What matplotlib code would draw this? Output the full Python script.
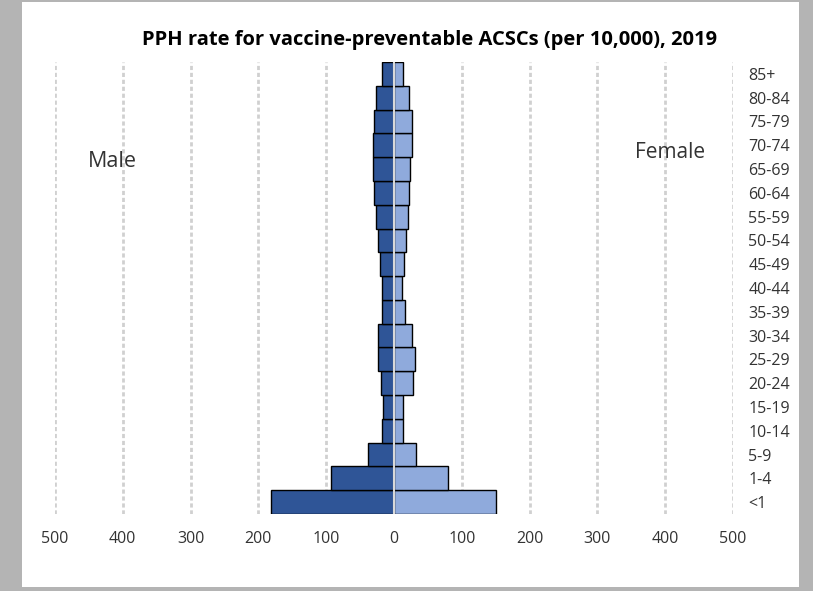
import matplotlib

matplotlib.use("Agg")
import matplotlib.pyplot as plt
from matplotlib.patches import Rectangle

ages = ["<1", "1-4", "5-9", "10-14", "15-19", "20-24", "25-29", "30-34", "35-39",
        "40-44", "45-49", "50-54", "55-59", "60-64", "65-69", "70-74", "75-79",
        "80-84", "85+"]
male = [182, 93, 38, 17, 16, 19, 23, 23, 17, 17, 20, 23, 26, 29, 31, 31, 29, 26, 18]
female = [150, 79, 32, 14, 14, 28, 31, 26, 16, 12, 15, 18, 20, 22, 24, 26, 26, 22, 13]
xticks = [-500, -400, -300, -200, -100, 0, 100, 200, 300, 400, 500]

W, H = 813, 591
plt.rcParams["font.family"] = ["Open Sans", "DejaVu Sans"]

fig = plt.figure(figsize=(W / 100, H / 100), dpi=100, facecolor="#b4b4b4")
# white chart area over the grey frame
fig.add_artist(Rectangle((22 / W, 1 - 587 / H), 777 / W, 585 / H,
                         transform=fig.transFigure, facecolor="white",
                         edgecolor="none", zorder=-5))

ax = fig.add_axes([55 / W, 1 - 514 / H, (733 - 55) / W, (514 - 62) / H])
ax.set_facecolor("none")
ax.set_zorder(2)

y = list(range(len(ages)))
ax.barh(y, [-m for m in male], height=1.0, color="#2f5597",
        edgecolor="black", linewidth=1, zorder=2)
ax.barh(y, female, height=1.0, color="#8faadc",
        edgecolor="black", linewidth=1, zorder=2)
ax.axvline(0, color="#d9d9d9", linewidth=1.5, zorder=3)

ax.set_xlim(-500, 500)
ax.set_ylim(-0.5, len(ages) - 0.5)
ax.set_xticks(xticks)
ax.set_xticklabels([str(abs(v)) for v in xticks])
ax.set_yticks(y)
ax.set_yticklabels(ages)
ax.yaxis.tick_right()
ax.tick_params(axis="y", length=0, pad=11, labelsize=11.5, labelcolor="#333333")
ax.tick_params(axis="x", length=0, pad=12, labelsize=11.5, labelcolor="#333333")
ax.grid(axis="x", color="#d0d0d0", linestyle=(0, (1.5, 1)), linewidth=2, zorder=1)
ax.set_axisbelow(True)
for s in ax.spines.values():
    s.set_visible(False)

fig.text(430 / W, 1 - 40 / H,
         "PPH rate for vaccine-preventable ACSCs (per 10,000), 2019",
         ha="center", va="center", fontsize=14.5, fontweight="bold", color="black")
fig.text(112 / W, 1 - 162 / H, "Male", ha="center", va="center",
         fontsize=15.5, color="#333333")
fig.text(670 / W, 1 - 152 / H, "Female", ha="center", va="center",
         fontsize=15, color="#333333")

fig.savefig("out.png", dpi=100, facecolor=fig.get_facecolor())
